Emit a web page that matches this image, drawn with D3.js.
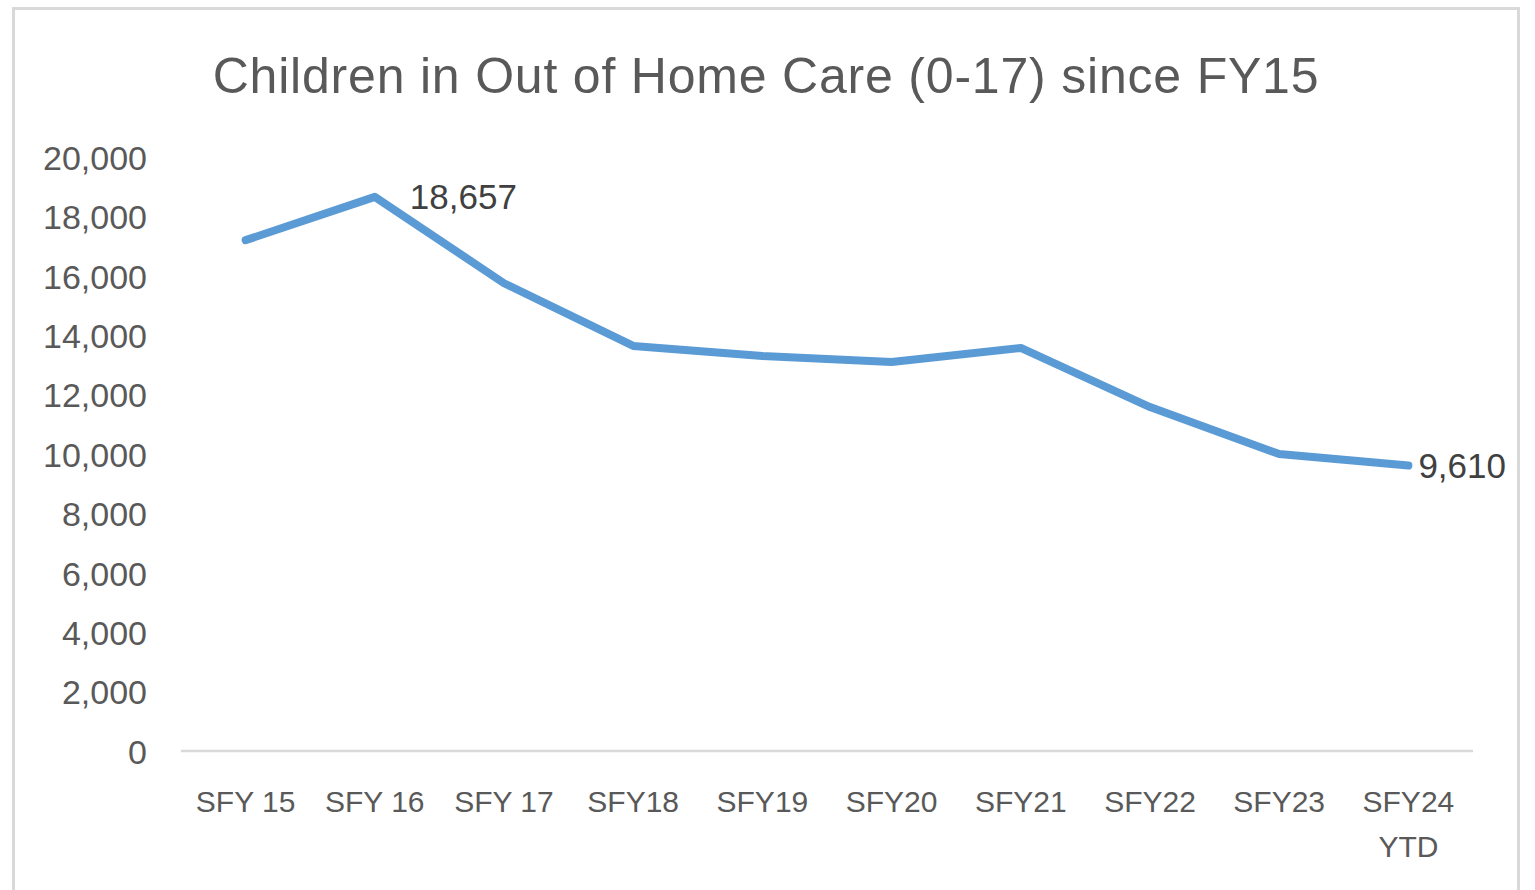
<!DOCTYPE html>
<html>
<head>
<meta charset="utf-8">
<script src="https://cdn.jsdelivr.net/npm/d3@7"></script>
<style>
    body { margin: 0; background: #fff; }
    text { font-family: "Liberation Sans", Arial, sans-serif; fill: #595959; }
</style>
</head>
<body>
<div id="chart"></div>
<script>
// Chart values
var categories = ['SFY 15', 'SFY 16', 'SFY 17', 'SFY18', 'SFY19', 'SFY20', 'SFY21', 'SFY22', 'SFY23', 'SFY24\nYTD'];
var children = [17200, 18657, 15750, 13640, 13300, 13100, 13570, 11580, 10000, 9610];
var yTicks = [0, 2000, 4000, 6000, 8000, 10000, 12000, 14000, 16000, 18000, 20000];
var labelled = [1, 9]; // indexes that carry a data label
var title = 'Children in Out of Home Care (0-17) since FY15';

var width = 1535,
    height = 890,
    margin = { top: 157, right: 62, bottom: 139, left: 181 };

var svg = d3.select('#chart').append('svg')
    .attr('width', width)
    .attr('height', height);

// outer chart border
svg.append('rect')
    .attr('x', 13.5)
    .attr('y', 8.5)
    .attr('width', 1505)
    .attr('height', 900)
    .attr('fill', 'none')
    .attr('stroke', '#d9d9d9')
    .attr('stroke-width', 3);

var x = d3.scalePoint()
    .domain(categories)
    .range([margin.left, width - margin.right])
    .padding(0.5);

var y = d3.scaleLinear()
    .domain([0, 20000])
    .range([height - margin.bottom, margin.top]);

var fmt = d3.format(',');

// title
svg.append('text')
    .attr('x', 766)
    .attr('y', 93)
    .attr('text-anchor', 'middle')
    .style('font-size', '50px')
    .style('letter-spacing', '0.8px')
    .text(title);

// y axis labels (no line, no ticks)
var yAxis = d3.axisLeft(y).tickValues(yTicks).tickFormat(fmt).tickSize(0).tickPadding(0);
var gy = svg.append('g')
    .attr('transform', 'translate(147,0)')
    .call(yAxis);
gy.select('.domain').remove();
gy.selectAll('text')
    .attr('dy', '0.36em')
    .style('font-size', '34px')
    .style('font-family', '"Liberation Sans", Arial, sans-serif')
    .attr('fill', '#595959');

// x baseline
svg.append('line')
    .attr('x1', margin.left)
    .attr('x2', width - margin.right)
    .attr('y1', y(0))
    .attr('y2', y(0))
    .attr('stroke', '#d9d9d9')
    .attr('stroke-width', 2.5);

// x category labels
var xl = svg.append('g').selectAll('text')
    .data(categories)
    .enter().append('text')
    .attr('x', function(d) { return x(d); })
    .attr('y', y(0) + 61)
    .attr('text-anchor', 'middle')
    .style('font-size', '30px');
xl.each(function(d) {
    var parts = d.split('\n');
    var t = d3.select(this);
    parts.forEach(function(p, i) {
        t.append('tspan')
            .attr('x', x(d))
            .attr('dy', i === 0 ? 0 : 45)
            .text(p);
    });
});

// the line
var line = d3.line()
    .x(function(d, i) { return x(categories[i]); })
    .y(function(d) { return y(d); });

svg.append('path')
    .datum(children)
    .attr('d', line)
    .attr('fill', 'none')
    .attr('stroke', '#5b9bd5')
    .attr('stroke-width', 8)
    .attr('stroke-linejoin', 'round')
    .attr('stroke-linecap', 'round');

// data labels
labelled.forEach(function(i) {
    svg.append('text')
        .attr('x', x(categories[i]) + (i === 1 ? 35 : 10))
        .attr('y', y(children[i]) + 12)
        .style('font-size', '35px')
        .style('fill', '#404040')
        .text(fmt(children[i]));
});
</script>
</body>
</html>
